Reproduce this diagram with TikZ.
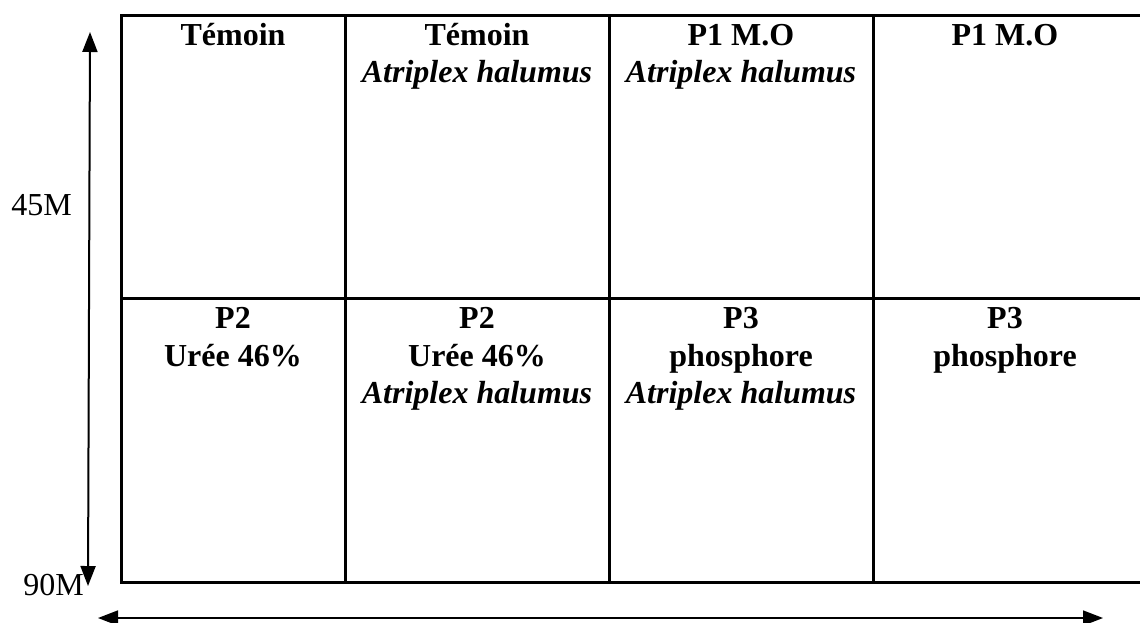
\documentclass[tikz,border=0pt]{standalone}
\usepackage{fontspec}
\setmainfont{Liberation Serif}
\usetikzlibrary{arrows.meta}
\begin{document}
\begin{tikzpicture}[x=1pt,y=-1pt,
  grid/.style={line width=3pt},
  lbl/.style={anchor=base,inner sep=0pt,font=\fontsize{32}{37}\selectfont\bfseries},
  ilbl/.style={anchor=base,inner sep=0pt,font=\fontsize{32}{37}\selectfont\bfseries\itshape},
  side/.style={anchor=base east,inner sep=0pt,font=\fontsize{32}{37}\selectfont},
  tip/.style={{Triangle[length=20pt,width=15pt]}-{Triangle[length=20pt,width=15pt]}},
  axis/.style={line width=2pt,tip}]
\useasboundingbox (0,0) rectangle (1140,622);
% table
\draw[grid] (1145,15) -- (121,15) -- (121,582) -- (1145,582);
\draw[grid] (121,298) -- (1145,298);
\draw[grid] (345,15) -- (345,582);
\draw[grid] (609,15) -- (609,582);
\draw[grid] (873,15) -- (873,582);
% top row
\node[lbl] (t1a) at (233,45) {Témoin};
\node[lbl] (t2a) at (477,45) {Témoin};
\node[ilbl] (t2b) at (477,82) {Atriplex halumus};
\node[lbl] (t3a) at (741,45) {P1 M.O};
\node[ilbl] (t3b) at (741,82) {Atriplex halumus};
\node[lbl] (t4a) at (1005,45) {P1 M.O};
% bottom row
\node[lbl] (b1a) at (233,328) {P2};
\node[lbl] (b1b) at (233,366) {Urée 46\%};
\node[lbl] (b2a) at (477,328) {P2};
\node[lbl] (b2b) at (477,366) {Urée 46\%};
\node[ilbl] (b2c) at (477,403) {Atriplex halumus};
\node[lbl] (b3a) at (741,328) {P3};
\node[lbl] (b3b) at (741,366) {phosphore};
\node[ilbl] (b3c) at (741,403) {Atriplex halumus};
\node[lbl] (b4a) at (1005,328) {P3};
\node[lbl] (b4b) at (1005,366) {phosphore};
% side labels
\node[side] (m45) at (72,215) {45M};
\node[side] (m90) at (84,595) {90M};
% axes
\coordinate (vtop) at (90,32);
\coordinate (vbot) at (88,586);
\coordinate (hl) at (98,618);
\coordinate (hr) at (1103,618);
\draw[axis] (vbot) -- (vtop);
\draw[axis,line width=1.6pt] (hl) -- (hr);
\end{tikzpicture}
\end{document}
